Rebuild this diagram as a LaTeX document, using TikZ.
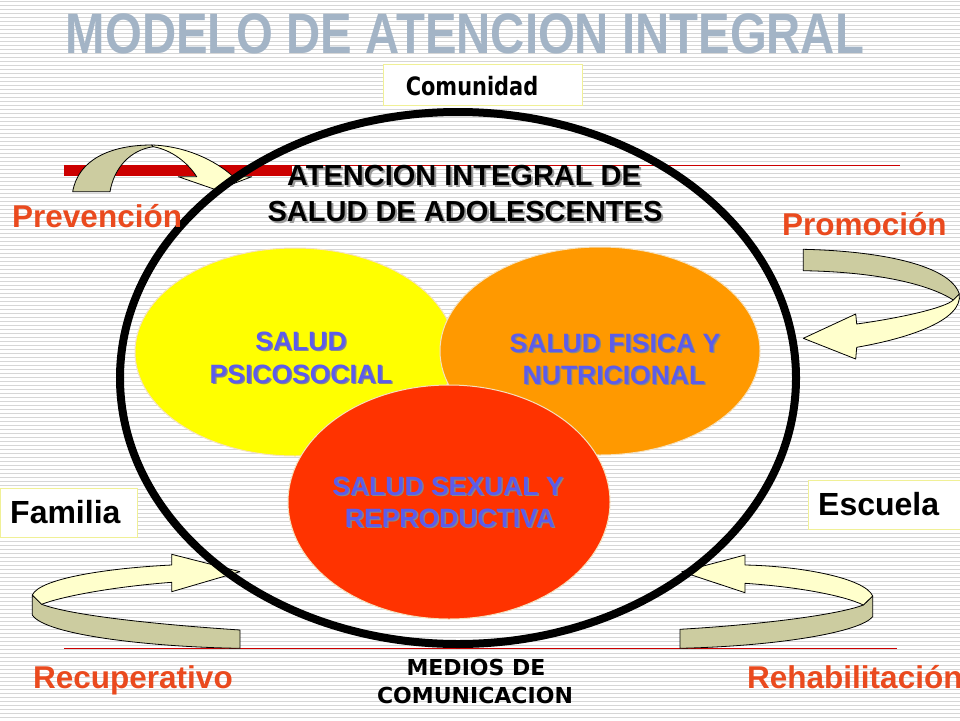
\documentclass[tikz,border=0pt]{standalone}
\usepackage{fontspec}
\setmainfont{Liberation Sans}
\newfontfamily\dvsans{DejaVu Sans}
\usetikzlibrary{shapes.geometric}
\definecolor{stripegray}{RGB}{214,214,214}
\definecolor{titleblue}{RGB}{163,180,198}
\definecolor{labelorange}{RGB}{234,74,30}
\definecolor{boxyellow}{RGB}{240,240,150}
\definecolor{khaki}{RGB}{204,204,160}
\definecolor{paleyellow}{RGB}{255,255,204}
\definecolor{redline}{RGB}{204,0,0}
\definecolor{blobyellow}{RGB}{255,255,0}
\definecolor{bloborange}{RGB}{255,153,0}
\definecolor{blobred}{RGB}{255,51,0}
\definecolor{blobedge}{RGB}{245,225,190}
\definecolor{healthblue}{RGB}{92,92,235}
\definecolor{shadowgray}{RGB}{135,135,135}
\definecolor{headshadow}{RGB}{155,155,155}
% text with a soft drop shadow: #1 shadow colour, #2 offset, #3 text
\newcommand\dropshadowtext[3]{\rlap{\hspace{#2}\raisebox{-#2}{\textcolor{#1}{#3}}}#3}
\begin{document}
\begin{tikzpicture}[x=1pt,y=-1pt,
  stripe/.style={draw=stripegray,line width=1pt},
  blob/.style={ellipse,draw=blobedge,line width=1pt,inner sep=0pt},
  bluetxt/.style={text=healthblue,font=\fontsize{26.5}{30}\selectfont\bfseries,inner sep=0pt,anchor=base},
  headtxt/.style={text=black,font=\fontsize{29}{34}\selectfont\bfseries,inner sep=0pt,anchor=base},
  orangelbl/.style={text=labelorange,font=\fontsize{31.5}{36}\selectfont\bfseries,inner sep=0pt,anchor=base west},
  boxlbl/.style={text=black,font=\fontsize{32}{36}\selectfont\bfseries,inner sep=0pt,anchor=base west},
  medlbl/.style={text=black,font=\dvsans\fontsize{22}{26}\selectfont\bfseries,inner sep=0pt,anchor=base},
  tagbox/.style={draw=boxyellow,line width=1.2pt,fill=white,inner sep=0pt,anchor=north west},
  backface/.style={fill=khaki,draw=black,line width=0.8pt,line join=round},
  frontface/.style={fill=paleyellow,draw=black,line width=0.8pt,line join=round},
]
\useasboundingbox (0,0) rectangle (960,720);
\clip (0,0) rectangle (960,720);
\fill[white] (0,0) rectangle (960,720);
\foreach \i in {0,...,179} \draw[stripe] (0,\i*4+1.5) -- (960,\i*4+1.5);

% title
\node[text=titleblue,font=\fontsize{57}{60}\selectfont\bfseries,inner sep=0pt,anchor=base] (title) at (465,53) {\scalebox{0.83}[1]{MODELO DE ATENCION INTEGRAL}};

% red rules
\draw[redline,line width=0.8pt] (64,165) -- (900,165);
\fill[redline] (64,165) rectangle (292,176);
\draw[redline,line width=0.8pt] (64,648) -- (897,648);

% tag boxes
\node[tagbox,minimum width=199,minimum height=41] (comubox) at (383,64) {};
\node[font=\dvsans\bfseries\fontsize{22}{26}\selectfont,inner sep=0pt] (comunidad) at (472,86) {\scalebox{0.95}[1.15]{Comunidad}};
\node[tagbox,minimum width=137,minimum height=49] (fambox) at (0,488) {};
\node[boxlbl] (familia) at (10,523) {Familia};
\node[tagbox,minimum width=160,minimum height=49] (escbox) at (808,480) {};
\node[boxlbl] (escuela) at (818,515) {Escuela};

% coloured areas
\node[blob,fill=blobyellow,minimum width=320,minimum height=208] (psico) at (295,352) {};
\node[blob,fill=bloborange,minimum width=320,minimum height=208] (fisica) at (600,351) {};
\node[blob,fill=blobred,minimum width=322,minimum height=234] (sexual) at (449,502) {};

% heading
\node[headtxt] (h1) at (464,185) {\dropshadowtext{headshadow}{2pt}{ATENCION INTEGRAL DE}};
\node[headtxt] (h2) at (465,221) {\dropshadowtext{headshadow}{2pt}{SALUD DE ADOLESCENTES}};

% area texts
\node[bluetxt] (p1) at (301,350) {\dropshadowtext{shadowgray}{1.3pt}{SALUD}};
\node[bluetxt] (p2) at (301,383) {\dropshadowtext{shadowgray}{1.3pt}{PSICOSOCIAL}};
\node[bluetxt] (f1) at (615,352) {\dropshadowtext{shadowgray}{1.3pt}{SALUD FISICA Y}};
\node[bluetxt] (f2) at (614,384) {\dropshadowtext{shadowgray}{1.3pt}{NUTRICIONAL}};
\node[bluetxt] (s1) at (448,495) {\dropshadowtext{shadowgray}{1.3pt}{SALUD SEXUAL Y}};
\node[bluetxt] (s2) at (450,527) {\dropshadowtext{shadowgray}{1.3pt}{REPRODUCTIVA}};

% curved arrows
% top left (Prevencion)
\draw[backface] (72.7,191.7) .. controls (78,160) and (110,145) .. (151.7,145)
  -- (153.3,146.7) .. controls (130,150) and (114,168) .. (110,191.7) -- cycle;
\draw[frontface] (151.7,145) .. controls (185,146) and (215,160) .. (233.3,176.7)
  -- (251.7,176.7) -- (216.7,190) -- (178.3,176.7) -- (196.7,176.7)
  .. controls (188,163) and (172,150) .. (153.3,146.7) -- cycle;
% right (Promocion)
\draw[backface] (803.3,249.3) .. controls (880,251) and (950,265) .. (959.3,294)
  -- (953.3,300) .. controls (930,285) and (880,272) .. (803.3,270.7) -- cycle;
\draw[frontface] (959.3,294) .. controls (963,320) and (910,338) .. (856.7,347.3)
  -- (855.7,359) -- (803.3,338.3) -- (855.7,314) -- (856.7,324)
  .. controls (900,318) and (945,308) .. (953.3,300) -- cycle;
% bottom left (Recuperativo)
\draw[backface] (32.3,595) -- (32.3,615) .. controls (45,635) and (150,647) .. (240,648.3)
  -- (240,630) .. controls (150,624) and (70,615) .. (41.7,604.3) -- cycle;
\draw[frontface] (32.3,595) .. controls (40,578) and (110,568) .. (171.7,565)
  -- (171.7,554.3) -- (240,571.7) -- (171.7,591.7) -- (171.7,582.3)
  .. controls (110,587) and (60,597) .. (41.7,604.3) -- cycle;
% bottom right (Rehabilitacion)
\draw[backface] (872.7,596) -- (872.7,616.7) .. controls (860,632) and (780,646) .. (680,648.3)
  -- (680,629.3) .. controls (770,624) and (840,614) .. (863.3,605) -- cycle;
\draw[frontface] (872.7,596) .. controls (865,578) and (800,566) .. (745,565)
  -- (745,555) -- (681.7,571.7) -- (745,592.7) -- (745,583.3)
  .. controls (800,587) and (845,596) .. (863.3,605) -- cycle;

% big frame
\node[draw=black,ellipse,line width=8pt,inner sep=0pt,minimum width=676,minimum height=532] (frame) at (458,378) {};

% outer labels
\node[orangelbl] (prev) at (12,227) {Prevención};
\node[orangelbl] (prom) at (782,235) {Promoción};
\node[orangelbl] (recu) at (33,688) {Recuperativo};
\node[orangelbl] (reha) at (747,688) {Rehabilitación};
\node[medlbl] (med1) at (476,675) {MEDIOS DE};
\node[medlbl] (med2) at (475,703) {COMUNICACION};
\end{tikzpicture}
\end{document}
